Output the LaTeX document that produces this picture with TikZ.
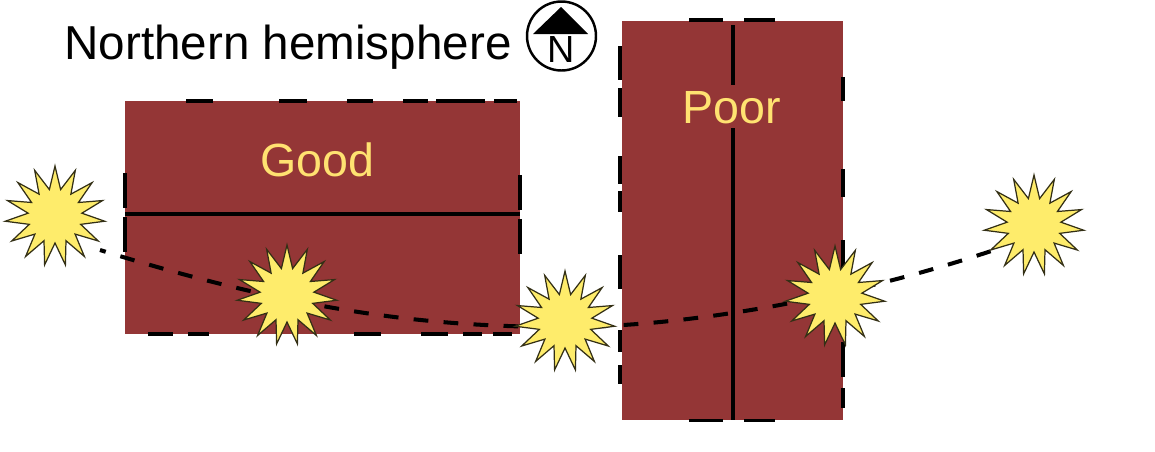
\documentclass[tikz,border=0pt]{standalone}
\usepackage{fontspec}
\setmainfont{Liberation Sans}
\usetikzlibrary{shapes.geometric}

\definecolor{wallred}{HTML}{943636}
\definecolor{sunyellow}{HTML}{FEEC6B}
\definecolor{labelyellow}{HTML}{FFE271}
\pgfdeclarelayer{front}
\pgfsetlayers{main,front}

\tikzset{
  wallbox/.style={fill=wallred, draw=none, inner sep=0pt, outer sep=0pt},
  wallline/.style={black, line width=2.2pt},
  trackline/.style={black, line width=2.3pt, dash pattern=on 8.4pt off 8.7pt, dash phase=5pt},
  sun/.style={star, star points=15, star point ratio=1.85, minimum size=2cm,
    inner sep=0pt, outer sep=0pt, fill=sunyellow, draw=black!80!sunyellow, line width=0.7pt},
  walllabel/.style={text=labelyellow, font=\fontsize{26.5}{30}\selectfont, inner sep=0pt},
}

\begin{document}
\begin{tikzpicture}[x=0.02cm, y=-0.02cm]
      \useasboundingbox (0,0) rectangle (1155,451);

      \node [wallbox, minimum width=7.91cm, minimum height=4.65cm] (goodWall) at (322.3,217.3) {};
      \node [wallbox, minimum width=4.42cm, minimum height=7.98cm] (poorWall) at (732.4,220.5) {};

      \node [walllabel] (goodLabel) at (317,160) {Good};
      \node [walllabel] (poorLabel) at (732,108) {Poor};
      \node [font=\fontsize{27.1}{30}\selectfont, inner sep=0pt] (titleLabel) at (288,47) {Northern hemisphere};

      % windows
      \draw [wallline] (125,214) -- (520,214);
      \draw [wallline] (733,25) -- (733,85);
      \draw [wallline] (733,128) -- (733,420);

      % dashes round the walls
      \foreach \a/\b in {186/213,279/307,347/373,403/428,436/485,494/517}
        \draw [wallline] (\a,101) -- (\b,101);
      \foreach \a/\b in {148/173,188/209,354/381,421/448,463/482,493/512}
        \draw [wallline] (\a,334) -- (\b,334);
      \foreach \a/\b in {173/208,217/252}
        \draw [wallline] (125,\a) -- (125,\b);
      \foreach \a/\b in {175/210,219/254}
        \draw [wallline] (520,\a) -- (520,\b);
      \foreach \a/\b in {689/723,744/775}{
        \draw [wallline] (\a,20) -- (\b,20);
        \draw [wallline] (\a,420.5) -- (\b,420.5);
      }
      \foreach \a/\b in {46/80,88/117,156/184,191/212,255/289,330/352,365/384}
        \draw [wallline] (620,\a) -- (620,\b);
      \foreach \a/\b in {77/101,169/197,240/270,342/377,388/408}
        \draw [wallline] (843,\a) -- (843,\b);

      % suns
      \begin{pgfonlayer}{front}
        \node [sun] (sunA) at (55,216) {};
        \node [sun] (sunB) at (287,295) {};
        \node [sun] (sunC) at (565,321) {};
        \node [sun] (sunD) at (835,296) {};
        \node [sun] (sunE) at (1034,225) {};
      \end{pgfonlayer}

      \coordinate (trackL) at (100,250);
      \coordinate (trackM) at (565,327);
      \coordinate (trackR) at (1000,248);
      \draw [trackline] (trackL) .. controls (300,312) and (430,327) .. (trackM)
        .. controls (690,327) and (860,296) .. (trackR);

      % compass
      \node [circle, draw, line width=1.4pt, minimum size=1.38cm, inner sep=0pt] (compassRing) at (561.5,36) {};
      \fill (561,7) -- (588,34) -- (533,34) -- cycle;
      \node [font=\fontsize{21.5}{24}\selectfont, inner sep=0pt] (compassN) at (561.5,49) {N};
\end{tikzpicture}
\end{document}
